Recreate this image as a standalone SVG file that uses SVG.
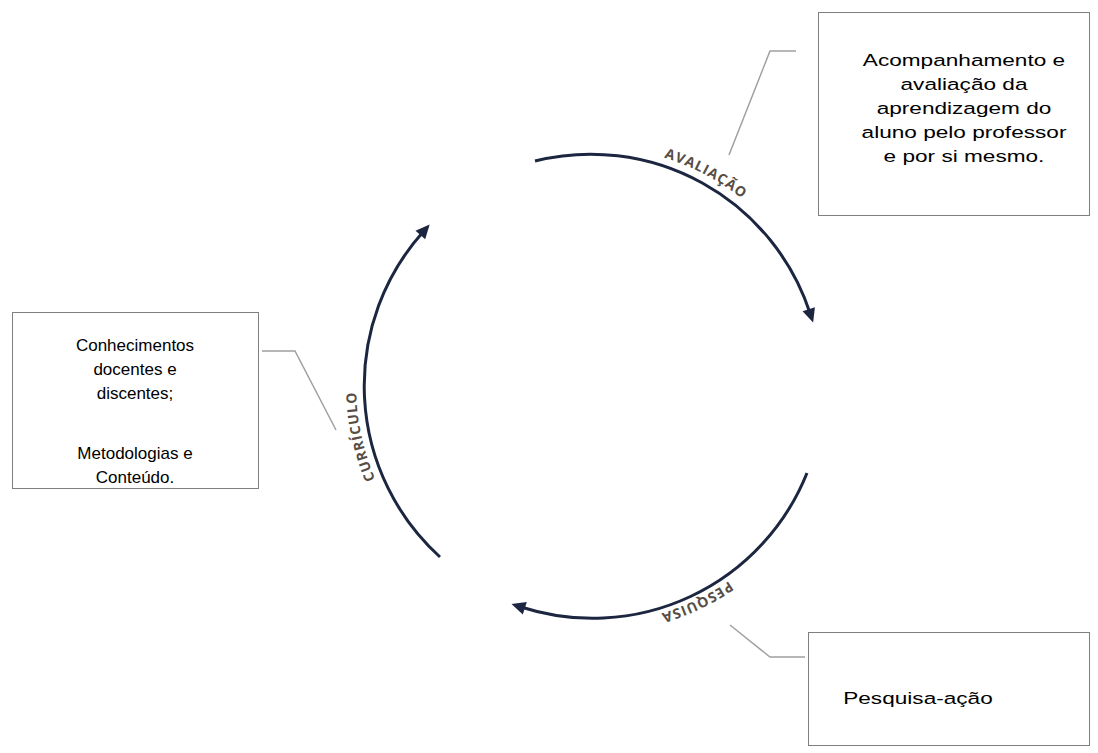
<svg xmlns="http://www.w3.org/2000/svg" width="1098" height="753" viewBox="0 0 1098 753">
<style>
.box{fill:#fff;stroke:#7f7f7f;stroke-width:1}
.txt{font-family:"Liberation Sans",Arial,sans-serif;font-size:17px;fill:#000;text-anchor:middle}
.arc{fill:none;stroke:#1c2641;stroke-width:3}
.lead{fill:none;stroke:#a0a0a0;stroke-width:1.5}
.lbl{font-family:"Open Sans","DejaVu Sans",sans-serif;font-weight:700;font-size:14px;fill:#574d44;letter-spacing:1px}
</style>
<defs>
<marker id="ah" markerUnits="userSpaceOnUse" markerWidth="16" markerHeight="14" refX="4" refY="6.5" orient="auto" overflow="visible">
<path d="M0,0 L14,6.5 L0,13 z" fill="#1c2641"/>
</marker>
<path id="ring" d="M832,385 A238,238 0 1 1 356,385 A238,238 0 1 1 832,385"/>
</defs>
<g id="connectors">
<path class="arc" d="M535,161 A231,231 0 0 1 810,313" marker-end="url(#ah)"/>
<path class="arc" d="M807,473 A231,231 0 0 1 521,607" marker-end="url(#ah)"/>
<path class="arc" d="M440,557 A231,231 0 0 1 423,232" marker-end="url(#ah)"/>
<polyline class="lead" points="796,51 770,51 729,155"/>
<polyline class="lead" points="262,351 295,351 336,430"/>
<polyline class="lead" points="805,657 770,657 730,625"/>
</g>
<g id="labels">
<text class="lbl"><textPath href="#ring" startOffset="1237" text-anchor="middle">AVALIAÇÃO</textPath></text>
<text class="lbl"><textPath href="#ring" startOffset="268.3" text-anchor="middle">PESQUISA</textPath></text>
<text class="lbl"><textPath href="#ring" startOffset="695.8" text-anchor="middle">CURRÍCULO</textPath></text>
</g>
<g id="node-avaliacao">
<rect class="box" x="818.5" y="12.5" width="271" height="203"/>
<g transform="translate(964,0) scale(1.33,1) translate(-964,0)">
<text class="txt" x="964" y="66">Acompanhamento e</text>
<text class="txt" x="964" y="90">avaliação da</text>
<text class="txt" x="964" y="114">aprendizagem do</text>
<text class="txt" x="964" y="138">aluno pelo professor</text>
<text class="txt" x="964" y="162">e por si mesmo.</text>
</g>
</g>
<g id="node-curriculo">
<rect class="box" x="12.5" y="312.5" width="246" height="176"/>
<text class="txt" x="135" y="351">Conhecimentos</text>
<text class="txt" x="135" y="375">docentes e</text>
<text class="txt" x="135" y="399">discentes;</text>
<text class="txt" x="135" y="459">Metodologias e</text>
<text class="txt" x="135" y="483">Conteúdo.</text>
</g>
<g id="node-pesquisa">
<rect class="box" x="808.5" y="632.5" width="281" height="113"/>
<text class="txt" x="918" y="704" transform="translate(918,0) scale(1.33,1) translate(-918,0)">Pesquisa-ação</text>
</g>
</svg>
